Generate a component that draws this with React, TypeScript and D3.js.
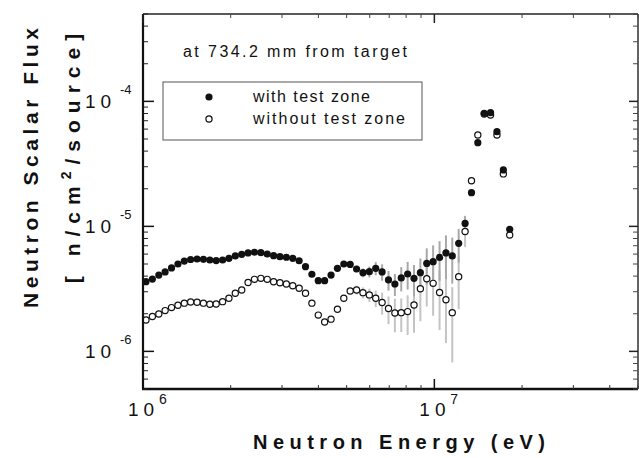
import React from 'react';
import * as d3 from 'd3';

// Neutron energy of each bin (MeV)
const energyMeV = [
  1.024, 1.077, 1.133, 1.191, 1.253, 1.318, 1.386, 1.457, 1.533, 1.612,
  1.696, 1.783, 1.876, 1.972, 2.074, 2.182, 2.294, 2.413, 2.538, 2.669,
  2.807, 2.952, 3.105, 3.266, 3.435, 3.612, 3.799, 3.996, 4.202, 4.42,
  4.649, 4.889, 5.142, 5.408, 5.688, 5.982, 6.292, 6.617, 6.96, 7.32,
  7.698, 8.097, 8.515, 8.954, 9.417, 9.904, 10.42, 10.96, 11.52, 12.12,
  12.75, 13.41, 14.1, 14.83, 15.59, 16.4, 17.25, 18.14,
];

// with test zone (filled)
const fluxWith = [
  3.61e-6, 3.79e-6, 4.08e-6, 4.32e-6, 4.65e-6, 5.0e-6, 5.28e-6, 5.43e-6, 5.48e-6, 5.45e-6,
  5.38e-6, 5.33e-6, 5.38e-6, 5.55e-6, 5.8e-6, 5.98e-6, 6.13e-6, 6.21e-6, 6.16e-6, 6.01e-6,
  5.83e-6, 5.72e-6, 5.66e-6, 5.55e-6, 5.31e-6, 4.76e-6, 4.14e-6, 3.68e-6, 3.68e-6, 4.08e-6,
  4.62e-6, 5.0e-6, 4.96e-6, 4.56e-6, 4.26e-6, 4.34e-6, 4.62e-6, 4.32e-6, 3.73e-6, 3.46e-6,
  3.87e-6, 4.16e-6, 3.84e-6, 4.26e-6, 5.05e-6, 5.22e-6, 5.64e-6, 6.13e-6, 5.8e-6, 7.32e-6,
  1.055e-5, 1.86e-5, 4.67e-5, 8.03e-5, 8.12e-5, 5.72e-5, 2.83e-5, 9.48e-6,
];

// without test zone (open)
const fluxWithout = [
  1.78e-6, 1.9e-6, 1.99e-6, 2.12e-6, 2.24e-6, 2.34e-6, 2.43e-6, 2.48e-6, 2.47e-6, 2.43e-6,
  2.38e-6, 2.39e-6, 2.5e-6, 2.66e-6, 2.92e-6, 3.1e-6, 3.56e-6, 3.77e-6, 3.84e-6, 3.77e-6,
  3.61e-6, 3.54e-6, 3.46e-6, 3.35e-6, 3.2e-6, 2.92e-6, 2.43e-6, 1.95e-6, 1.72e-6, 1.81e-6,
  2.17e-6, 2.66e-6, 3.04e-6, 3.1e-6, 2.95e-6, 2.83e-6, 2.66e-6, 2.46e-6, 2.2e-6, 2.03e-6,
  2.04e-6, 2.08e-6, 2.35e-6, 3.17e-6, 3.81e-6, 3.5e-6, 2.96e-6, 2.59e-6, 2.04e-6, 3.96e-6,
  9.1e-6, 2.32e-5, 5.38e-5, 7.93e-5, 7.78e-5, 5.38e-5, 2.63e-5, 8.53e-6,
];

// relative uncertainties
const errWith = [
  0, 0, 0, 0, 0, 0, 0, 0, 0, 0,
  0, 0, 0, 0, 0, 0, 0, 0, 0, 0,
  0, 0, 0, 0, 0, 0, 0, 0, 0, 0,
  0, 0, 0, 0.06, 0.08, 0.1, 0.12, 0.15, 0.18, 0.2,
  0.22, 0.25, 0.28, 0.3, 0.32, 0.35, 0.35, 0.38, 0.4, 0.3,
  0.15, 0, 0, 0, 0, 0, 0, 0,
];
const errWithout = [
  0, 0, 0, 0, 0, 0, 0, 0, 0, 0,
  0, 0, 0, 0, 0, 0, 0, 0, 0, 0,
  0, 0, 0, 0, 0, 0, 0, 0, 0, 0,
  0, 0, 0, 0.08, 0.1, 0.12, 0.15, 0.2, 0.25, 0.3,
  0.3, 0.35, 0.4, 0.45, 0.4, 0.45, 0.5, 0.55, 0.6, 0.45,
  0.25, 0, 0, 0, 0, 0, 0, 0,
];

const xTickExps = [6, 7];
const yTickExps = [-4, -5, -6];
const legendLabels = ['with test zone', 'without test zone'];
const noteText = 'at 734.2 mm from target';
const xTitle = 'Neutron  Energy  (eV)';
const yTitle1 = 'Neutron  Scalar  Flux';

const FONT = '"Liberation Sans", Arial, Helvetica, sans-serif';

export default function App() {
  const W = 639;
  const H = 458;
  const L = 143, R = 638, T = 14, B = 389;
  const x = d3.scaleLog().domain([1e6, 5e7]).range([L, R]);
  const y = d3.scaleLog().domain([5e-7, 5e-4]).range([B, T]);

  const yMinor: number[] = [];
  for (let k = -7; k <= -4; k++) {
    for (let m = 2; m <= 9; m++) {
      const v = m * Math.pow(10, k);
      if (v >= 5e-7 * 0.999 && v <= 5e-4 * 1.001) yMinor.push(v);
    }
  }
  const xMinor: number[] = [];
  for (let k = 6; k <= 7; k++) {
    for (let m = 2; m <= 9; m++) {
      const v = m * Math.pow(10, k);
      if (v <= 5e7 * 1.001) xMinor.push(v);
    }
  }

  const pts = energyMeV.map((e, i) => ({
    e: e * 1e6,
    w: fluxWith[i],
    wo: fluxWithout[i],
    ew: errWith[i],
    ewo: errWithout[i],
  }));

  return (
    <svg width={W} height={H} style={{ position: 'absolute', left: 0, top: 0, background: '#fff' }} fontFamily={FONT}>
      <rect x={0} y={0} width={W} height={H} fill="#fff" />

      {/* error bars */}
      {pts.map((p, i) =>
        p.ewo > 0 ? (
          <line key={'ebo' + i} x1={x(p.e)} x2={x(p.e)} y1={y(p.wo * (1 - p.ewo))} y2={y(p.wo * (1 + p.ewo))}
            stroke="#c4c4c4" strokeWidth={2} />
        ) : null
      )}
      {pts.map((p, i) =>
        p.ew > 0 ? (
          <line key={'ebw' + i} x1={x(p.e)} x2={x(p.e)} y1={y(p.w * (1 - p.ew))} y2={y(p.w * (1 + p.ew))}
            stroke="#a8a8a8" strokeWidth={2} />
        ) : null
      )}

      {/* open markers */}
      {pts.map((p, i) => (
        <circle key={'o' + i} cx={x(p.e)} cy={y(p.wo)} r={3.1} fill="#fff" stroke="#111" strokeWidth={1.2} />
      ))}
      {/* filled markers */}
      {pts.map((p, i) => (
        <circle key={'f' + i} cx={x(p.e)} cy={y(p.w)} r={3.6} fill="#111" />
      ))}

      {/* frame */}
      <line x1={L} x2={L} y1={T} y2={B} stroke="#111" strokeWidth={2.2} />
      <line x1={L - 1} x2={R} y1={B} y2={B} stroke="#111" strokeWidth={2.5} />
      <line x1={L} x2={R} y1={T} y2={T} stroke="#222" strokeWidth={1.6} />
      <line x1={R} x2={R} y1={T} y2={B} stroke="#222" strokeWidth={1.4} />

      {/* y ticks */}
      {yTickExps.map((k) => (
        <g key={'ym' + k}>
          <line x1={L} x2={L + 11} y1={y(Math.pow(10, k))} y2={y(Math.pow(10, k))} stroke="#111" strokeWidth={1.5} />
          <line x1={R} x2={R - 9} y1={y(Math.pow(10, k))} y2={y(Math.pow(10, k))} stroke="#222" strokeWidth={1.5} />
        </g>
      ))}
      {yMinor.map((v, i) => (
        <g key={'yn' + i}>
          <line x1={L} x2={L + 5} y1={y(v)} y2={y(v)} stroke="#222" strokeWidth={1} />
          <line x1={R} x2={R - 5} y1={y(v)} y2={y(v)} stroke="#444" strokeWidth={1} />
        </g>
      ))}
      {/* x ticks */}
      {xTickExps.map((k) => (
        <g key={'xm' + k}>
          <line x1={x(Math.pow(10, k))} x2={x(Math.pow(10, k))} y1={B} y2={B - 10} stroke="#111" strokeWidth={1.5} />
          <line x1={x(Math.pow(10, k))} x2={x(Math.pow(10, k))} y1={T} y2={T + 9} stroke="#222" strokeWidth={1.5} />
        </g>
      ))}
      {xMinor.map((v, i) => (
        <g key={'xn' + i}>
          <line x1={x(v)} x2={x(v)} y1={B} y2={B - 4} stroke="#333" strokeWidth={1} />
          <line x1={x(v)} x2={x(v)} y1={T} y2={T + 4} stroke="#444" strokeWidth={1} />
        </g>
      ))}

      {/* y tick labels */}
      {yTickExps.map((k) => {
        const yy = y(Math.pow(10, k));
        return (
          <g key={'yl' + k}>
            <text x={85} y={yy + 7} fontSize={19} fill="#111" letterSpacing={5}>10</text>
            <text x={120} y={yy - 7} fontSize={13} fill="#111">{'-' + Math.abs(k)}</text>
          </g>
        );
      })}
      {/* x tick labels */}
      {xTickExps.map((k) => {
        const xx = x(Math.pow(10, k));
        return (
          <g key={'xl' + k}>
            <text x={xx - 15} y={416} fontSize={19} fill="#111" letterSpacing={5}>10</text>
            <text x={xx + 16} y={404} fontSize={14} fill="#111">{String(k)}</text>
          </g>
        );
      })}

      {/* axis titles */}
      <text x={253} y={449} fontSize={20} fontWeight="bold" fill="#111" textLength={292} lengthAdjust="spacing">{xTitle}</text>
      <text transform="translate(38,168) rotate(-90)" textAnchor="middle" fontSize={21} fontWeight="bold" fill="#111"
        textLength={280} lengthAdjust="spacing">{yTitle1}</text>
      <text transform="translate(80,155) rotate(-90)" textAnchor="middle" fontSize={21} fontWeight="bold" fill="#111"
        letterSpacing={7}>
        <tspan>[ n/cm</tspan>
        <tspan dy={-9} fontSize={14}>2</tspan>
        <tspan dy={9}>/source]</tspan>
      </text>

      {/* annotation */}
      <text x={183} y={57} fontSize={16} fill="#111" textLength={224} lengthAdjust="spacing">{noteText}</text>

      {/* legend */}
      <rect x={163} y={82} width={259} height={58} fill="#fff" stroke="#555" strokeWidth={1} />
      <circle cx={209} cy={97} r={3.6} fill="#111" />
      <text x={253} y={102} fontSize={16} fill="#111" textLength={117} lengthAdjust="spacing">{legendLabels[0]}</text>
      <circle cx={209} cy={119} r={3.1} fill="#fff" stroke="#111" strokeWidth={1.2} />
      <text x={253} y={124} fontSize={16} fill="#111" textLength={152} lengthAdjust="spacing">{legendLabels[1]}</text>
    </svg>
  );
}
